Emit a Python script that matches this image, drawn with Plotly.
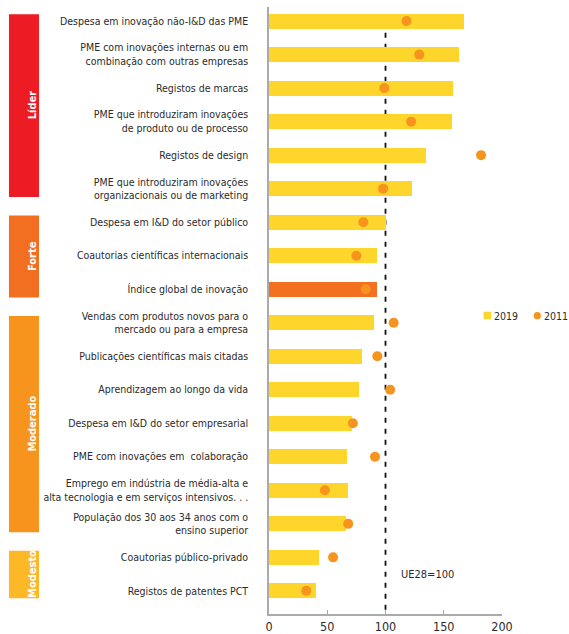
import plotly.graph_objects as go

labels = [
    "Despesa em inovação não-I&D das PME",
    "PME com inovações internas ou em<br>combinação com outras empresas",
    "Registos de marcas",
    "PME que introduziram inovações<br>de produto ou de processo",
    "Registos de design",
    "PME que introduziram inovações<br>organizacionais ou de marketing",
    "Despesa em I&D do setor público",
    "Coautorias científicas internacionais",
    "Índice global de inovação",
    "Vendas com produtos novos para o<br>mercado ou para a empresa",
    "Publicações científicas mais citadas",
    "Aprendizagem ao longo da vida",
    "Despesa em I&D do setor empresarial",
    "PME com inovações em  colaboração",
    "Emprego em indústria de média-alta e<br>alta tecnologia e em serviços intensivos. . .",
    "População dos 30 aos 34 anos com o<br>ensino superior",
    "Coautorias público-privado",
    "Registos de patentes PCT",
]
values_2019 = [167, 163, 158, 157, 135, 123, 100, 93, 93, 90, 80, 77, 71, 67, 68, 66, 43, 40]
values_2011 = [118, 129, 99, 122, 182, 98, 81, 75, 83, 107, 93, 104, 72, 91, 48, 68, 55, 32]
highlight = "Índice global de inovação"

groups = ["Líder", "Forte", "Moderado", "Modesto"]
group_spans = [(-0.2, 5.25), (5.8, 8.25), (8.8, 15.25), (15.8, 17.22)]
group_colors = ["#ED1C24", "#F26F22", "#F7941D", "#FDB827"]

YELLOW = "#FDD52B"
ORANGE_BAR = "#F37021"
DOT = "#F7941D"
FONT = "DejaVu Sans Condensed, Roboto, sans-serif"
TEXT = "#2b2b2b"

pos = list(range(len(labels)))
bar_colors = [ORANGE_BAR if lab == highlight else YELLOW for lab in labels]

fig = go.Figure()
fig.add_trace(go.Bar(
    x=values_2019, y=pos, orientation="h", width=0.45,
    marker=dict(color=bar_colors, line=dict(width=0)),
    name="2019", showlegend=False,
))
fig.add_trace(go.Scatter(
    x=values_2011, y=pos, mode="markers",
    marker=dict(color=DOT, size=10, line=dict(width=0)),
    name="2011", showlegend=False,
))

# reference line UE28 = 100
fig.add_shape(type="line", xref="x", yref="y", x0=100, x1=100, y0=0.35, y1=17.69,
              line=dict(color="#111111", width=1.8, dash="5px,6px"), layer="below")
fig.add_annotation(x=136, y=16.5, xref="x", yref="y", text="UE28=100", showarrow=False,
                   font=dict(family=FONT, size=11, color=TEXT))

# group bands on the left
for name, (y0, y1), col in zip(groups, group_spans, group_colors):
    fig.add_shape(type="rect", xref="paper", yref="y", x0=-1.116, x1=-0.987, y0=y0, y1=y1,
                  fillcolor=col, line=dict(width=0))
    fig.add_annotation(xref="paper", yref="y", x=-1.0515, y=(y0 + y1) / 2, text=name,
                       textangle=-90, showarrow=False,
                       font=dict(family=FONT, size=11, color="white", weight="bold"))

# legend drawn by hand
fig.add_shape(type="rect", xref="paper", yref="paper", x0=0.921, x1=0.953, y0=0.4855, y1=0.498,
              fillcolor=YELLOW, line=dict(width=0))
fig.add_annotation(xref="paper", yref="paper", x=0.957, y=0.491, xanchor="left", text="2019",
                   showarrow=False, font=dict(family=FONT, size=10.5, color=TEXT))
fig.add_shape(type="circle", xref="paper", yref="paper", x0=1.136, x1=1.167, y0=0.4855, y1=0.4975,
              fillcolor=DOT, line=dict(width=0))
fig.add_annotation(xref="paper", yref="paper", x=1.170, y=0.491, xanchor="left", text="2011",
                   showarrow=False, font=dict(family=FONT, size=10.5, color=TEXT))

fig.update_layout(
    width=569, height=634,
    margin=dict(l=269, r=67, t=7, b=20),
    paper_bgcolor="white", plot_bgcolor="white",
    font=dict(family=FONT, size=12, color=TEXT),
    bargap=0,
)
fig.update_xaxes(range=[0, 200], tickvals=[0, 50, 100, 150, 200], showgrid=False, zeroline=False,
                 showline=True, linecolor="#aaaaaa", linewidth=1.5, ticks="inside", ticklen=4,
                 tickcolor="#aaaaaa", tickfont=dict(size=12.5, color=TEXT), automargin=False)
fig.update_yaxes(range=[17.69, -0.42], tickvals=pos, ticktext=labels, showgrid=False, zeroline=False,
                 showline=True, linecolor="#aaaaaa", linewidth=1.5, ticks="", ticklabelstandoff=17,
                 tickfont=dict(size=10.5, color=TEXT), automargin=False)

# page body has a default 8px margin; drop it so the figure sits at the window origin
fig.write_html("out.html", config={"displayModeBar": False},
               post_script="document.body.style.margin='0';")
